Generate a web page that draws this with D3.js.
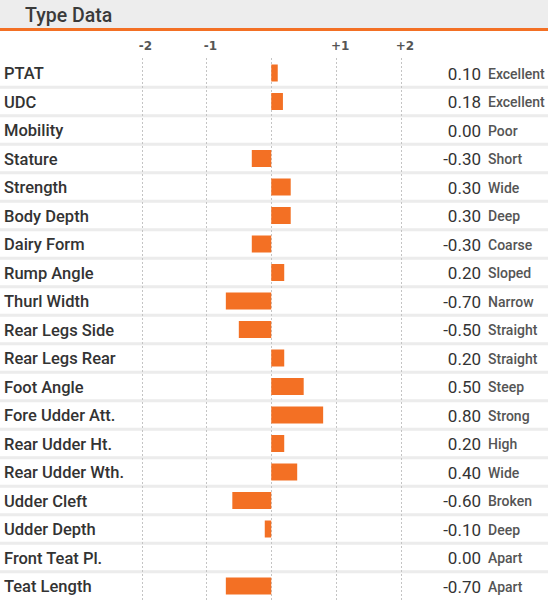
<!DOCTYPE html>
<html><head><meta charset="utf-8">
<script src="https://cdn.jsdelivr.net/npm/d3@7"></script>
<style>
html,body{margin:0;padding:0;background:#fff;}
svg{display:block;}
</style></head>
<body>
<svg id="chart" width="548" height="600"></svg>
<script>
const title = "Type Data";
const traits = ["PTAT","UDC","Mobility","Stature","Strength","Body Depth","Dairy Form","Rump Angle","Thurl Width","Rear Legs Side","Rear Legs Rear","Foot Angle","Fore Udder Att.","Rear Udder Ht.","Rear Udder Wth.","Udder Cleft","Udder Depth","Front Teat Pl.","Teat Length"];
const values = [0.10,0.18,0.00,-0.30,0.30,0.30,-0.30,0.20,-0.70,-0.50,0.20,0.50,0.80,0.20,0.40,-0.60,-0.10,0.00,-0.70];
const descriptors = ["Excellent","Excellent","Poor","Short","Wide","Deep","Coarse","Sloped","Narrow","Straight","Straight","Steep","Strong","High","Wide","Broken","Deep","Apart","Apart"];
const tickValues = [-2,-1,1,2];
const tickLabels = ["-2","-1","+1","+2"];
const gridValues = [-2,-1,0,1,2];

const W = 548, H = 600;
const svg = d3.select("#chart");
const font = "Roboto,'Noto Sans',sans-serif";
const orange = "#f37024";

const x = d3.scaleLinear().domain([-2,2]).range([141.5,401]);
const y = d3.scaleBand().domain(traits).range([58.75,600.25]).paddingInner(0).paddingOuter(0);

// header
svg.append("rect").attr("x",0).attr("y",0).attr("width",W).attr("height",28).attr("fill","#ededed");
svg.append("rect").attr("x",0).attr("y",28).attr("width",W).attr("height",3).attr("fill",orange);
svg.append("text").attr("x",25).attr("y",22).text(title)
  .attr("font-family",font).attr("font-size",19.5).attr("font-weight",500).attr("fill","#3a3a3a");

// row separators
svg.append("g").selectAll("rect").data(traits.slice(1)).join("rect")
  .attr("x",0).attr("width",W).attr("y",d=>y(d)-1.5).attr("height",3).attr("fill","#ececec");

// gridlines
svg.append("g").selectAll("line").data(gridValues).join("line")
  .attr("x1",d=>Math.round(x(d))+0.5).attr("x2",d=>Math.round(x(d))+0.5)
  .attr("y1",58).attr("y2",H)
  .attr("stroke","#c4c4c4").attr("stroke-width",1).attr("stroke-dasharray","2,2");

// tick labels
svg.append("g").selectAll("text").data(tickValues).join("text")
  .attr("x",d=>x(d)+4).attr("y",50).attr("text-anchor","middle")
  .text((d,i)=>tickLabels[i])
  .attr("font-family","'DejaVu Sans',sans-serif").attr("font-size",12).attr("font-weight","bold").attr("fill","#555");

const rows = svg.append("g").selectAll("g").data(traits).join("g")
  .attr("transform",d=>`translate(0,${y(d)+y.bandwidth()/2})`);

rows.append("text").attr("x",4).attr("y",6).text(d=>d)
  .attr("font-family",font).attr("font-size",16.5).attr("font-weight",500).attr("fill","#333");

rows.append("rect")
  .attr("x",(d,i)=>x(Math.min(0,values[i])))
  .attr("width",(d,i)=>Math.abs(x(values[i])-x(0)))
  .attr("y",-8.5).attr("height",17).attr("fill",orange);

rows.append("text").attr("x",481).attr("y",6.5).attr("text-anchor","end")
  .text((d,i)=>values[i].toFixed(2))
  .attr("font-family",font).attr("font-size",17).attr("fill","#333");

rows.append("text").attr("x",488).attr("y",5.5)
  .text((d,i)=>descriptors[i])
  .attr("font-family",font).attr("font-size",14).attr("font-weight",500).attr("fill","#555");
</script>
</body></html>
